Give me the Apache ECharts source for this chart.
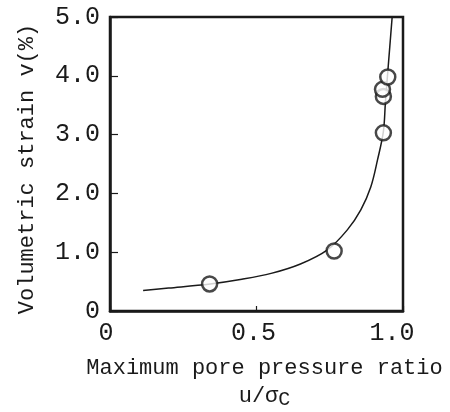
<!DOCTYPE html>
<html>
<head>
<meta charset="utf-8">
<script src="https://cdn.jsdelivr.net/npm/echarts@6/dist/echarts.min.js"></script>
<style>
  html, body { margin: 0; padding: 0; background: #fff; }
  #chart { width: 450px; height: 412px; }
</style>
</head>
<body>
<div id="chart"></div>
<script>
// Measured specimens: maximum pore pressure ratio vs volumetric strain (%)
const measuredRatio  = [0.340, 0.765, 0.933, 0.933, 0.930, 0.948];
const measuredStrain = [0.46, 1.02, 3.03, 3.65, 3.77, 3.98];

// Fitted trend curve
const fitRatio  = [0.113, 0.20, 0.342, 0.45, 0.55, 0.65, 0.742, 0.81, 0.856, 0.89, 0.913, 0.933, 0.940, 0.947, 0.955, 0.963];
const fitStrain = [0.35, 0.39, 0.46, 0.54, 0.64, 0.80, 1.04, 1.38, 1.72, 2.11, 2.57, 3.05, 3.55, 4.00, 4.50, 5.00];

// Axis tick values
const xTicks = [0, 0.5, 1.0];
const yTicks = [0, 1, 2, 3, 4, 5];

const FONT = '"Liberation Mono", "DejaVu Sans Mono", monospace';
const INK = '#1a1a1a';

const fmt = v => (v === 0 ? '0' : v.toFixed(1));

// x tick labels sit slightly left of their ticks in this layout
const xLabelStyle = pad => ({ fontFamily: FONT, fontSize: 25, color: INK, padding: [0, pad, 0, 0] });

const chart = echarts.init(document.getElementById('chart'), null, { renderer: 'canvas' });

chart.setOption({
  animation: false,
  backgroundColor: '#ffffff',
  grid: {
    left: 110, right: 47, top: 17, bottom: 101,
    outerBoundsMode: 'none',
    containLabel: false,
    show: true, borderColor: INK, borderWidth: 2.5, backgroundColor: 'transparent'
  },
  xAxis: {
    type: 'value',
    min: xTicks[0], max: xTicks[xTicks.length - 1], interval: 0.5,
    axisLine: { show: true, lineStyle: { color: INK, width: 2.5 } },
    axisTick: { show: true, inside: true, length: 5, lineStyle: { color: INK, width: 1.2 } },
    splitLine: { show: false },
    axisLabel: {
      margin: 10, color: INK, fontFamily: FONT, fontSize: 25,
      formatter: v => (v === 0 ? '{a|' : v === 0.5 ? '{b|' : '{c|') + fmt(v) + '}',
      rich: { a: xLabelStyle(8), b: xLabelStyle(6), c: xLabelStyle(22) }
    },
    name: 'Maximum pore pressure ratio\nu/σ{sub|C}',
    nameLocation: 'middle',
    nameGap: 43,
    nameTextStyle: {
      color: INK, fontFamily: FONT, fontSize: 22, lineHeight: 28,
      padding: [0, 0, 0, 16],
      rich: {
        sub: { fontFamily: FONT, fontSize: 20, verticalAlign: 'bottom', padding: [10, 0, 0, 0], color: INK }
      }
    }
  },
  yAxis: {
    type: 'value',
    min: yTicks[0], max: yTicks[yTicks.length - 1], interval: 1,
    axisLine: { show: true, lineStyle: { color: INK, width: 2.5 } },
    axisTick: { show: true, inside: true, length: 8, lineStyle: { color: INK, width: 1.2 } },
    splitLine: { show: false },
    axisLabel: {
      margin: 10, color: INK, fontFamily: FONT, fontSize: 25,
      formatter: v => fmt(v)
    },
    name: 'Volumetric strain v(%)',
    nameLocation: 'middle',
    nameRotate: 90,
    nameGap: 72,
    nameTextStyle: { color: INK, fontFamily: FONT, fontSize: 22, padding: [0, 10, 0, 0] }
  },
  series: [
    {
      type: 'line',
      data: fitRatio.map((x, i) => [x, fitStrain[i]]),
      smooth: 0.35,
      showSymbol: false,
      lineStyle: { color: INK, width: 1.5 },
      z: 2
    },
    {
      type: 'scatter',
      data: measuredRatio.map((x, i) => [x, measuredStrain[i]]),
      symbol: 'circle',
      symbolSize: 15,
      itemStyle: { color: '#ffffff', borderColor: INK, borderWidth: 2.5 },
      z: 3
    }
  ]
});
</script>
</body>
</html>
